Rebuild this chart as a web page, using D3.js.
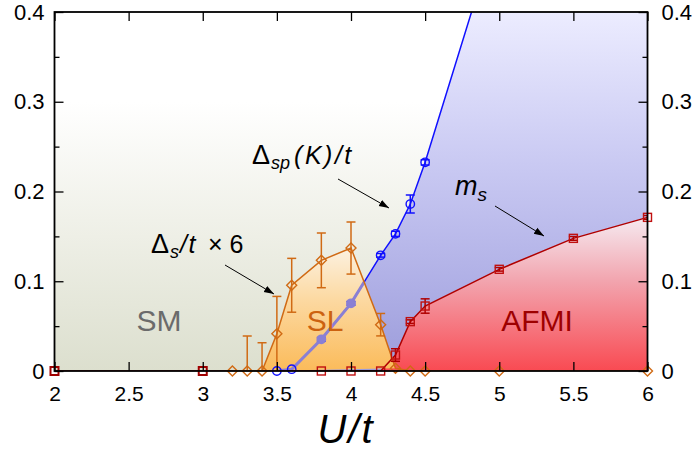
<!DOCTYPE html>
<html>
<head>
<meta charset="utf-8">
<script src="https://cdn.jsdelivr.net/npm/d3@7"></script>
<style>
  html, body { margin: 0; padding: 0; background: #fff; }
  svg { display: block; font-family: "Liberation Sans", Arial, sans-serif; }
</style>
</head>
<body>
<svg id="chart" width="698" height="451"></svg>
<script>
// Phase diagram: U/t on the x axis, gaps / order parameter on the y axis.
const xTicks = [2, 2.5, 3, 3.5, 4, 4.5, 5, 5.5, 6];
const xTickLabels = ["2", "2.5", "3", "3.5", "4", "4.5", "5", "5.5", "6"];
const yTicks = [0, 0.1, 0.2, 0.3, 0.4];
const yTickLabels = ["0", "0.1", "0.2", "0.3", "0.4"];
const yMinorTicks = [0.05, 0.15, 0.25, 0.35];

// Δs/t × 6 (superconducting gap, scaled)
const uDeltaS = [3.2, 3.3, 3.4, 3.5, 3.6, 3.8, 4.0, 4.2, 4.3, 4.4, 4.5, 5.0, 6.0];
const deltaS6 = [0, 0, 0, 0.0416, 0.0955, 0.1233, 0.137, 0.0516, 0.003, 0, 0, 0, 0];
const deltaS6Err = [0, 0.039, 0.0315, 0.0415, 0.030, 0.0305, 0.029, 0.0125, 0, 0, 0, 0, 0];

// Δsp(K)/t (single-particle gap)
const uDeltaSp = [3.5, 3.6, 3.8, 4.0, 4.2, 4.3, 4.4, 4.5, 5.0];
const deltaSp = [0, 0.002, 0.0353, 0.0754, 0.1289, 0.1528, 0.186, 0.2325, 0.50];
const deltaSpErr = [0, 0, 0.002, 0.002, 0.002, 0.003, 0.01, 0.003, 0];

// m_s (staggered magnetization)
const uMs = [2, 3, 3.8, 4.0, 4.2, 4.3, 4.4, 4.5, 5.0, 5.5, 6.0];
const ms = [0, 0, 0, 0, 0, 0.0178, 0.055, 0.0724, 0.1133, 0.1478, 0.1712];
const msErr = [0, 0, 0, 0, 0, 0.007, 0.002, 0.008, 0.002, 0.002, 0.002];

const W = 698, H = 451;
const x = d3.scaleLinear().domain([2, 6]).range([54.5, 647.5]);
const y = d3.scaleLinear().domain([0, 0.4]).range([371, 12]);
const [x0, x1] = x.range();
const [yb, yt] = y.range();

const svg = d3.select("#chart");
const defs = svg.append("defs");

function vGrad(id, stops) {
  const g = defs.append("linearGradient").attr("id", id)
    .attr("gradientUnits", "userSpaceOnUse")
    .attr("x1", 0).attr("x2", 0);
  const ys = stops.map(s => s[0]);
  g.attr("y1", y(ys[0])).attr("y2", y(ys[ys.length - 1]));
  const span = y(ys[ys.length - 1]) - y(ys[0]);
  stops.forEach(s => g.append("stop")
    .attr("offset", (y(s[0]) - y(ys[0])) / span)
    .attr("stop-color", s[1]));
}
vGrad("gBg", [[0.4, "#ffffff"], [0.3, "#ffffff"], [0.15, "#eeefe6"], [0, "#dcdfce"]]);
vGrad("gBlue", [[0.4, "#ececff"], [0.25, "#cdcdf4"], [0.1, "#b0b0e6"], [0, "#9c9cda"]]);
vGrad("gRed", [[0.175, "#f6eef4"], [0.1, "#f2a4ae"], [0, "#f94a52"]]);
vGrad("gOrange", [[0.14, "#fcf3e4"], [0.08, "#fcd9a2"], [0, "#fbbb5a"]]);

defs.append("clipPath").attr("id", "plotClip")
  .append("rect").attr("x", x0).attr("y", yt).attr("width", x1 - x0).attr("height", yb - yt);

const zip = (us, vs) => us.map((u, i) => [u, vs[i]]);
const line = d3.line().x(d => x(d[0])).y(d => y(d[1]));

// background (SM region)
svg.append("rect").attr("x", x0).attr("y", yt).attr("width", x1 - x0).attr("height", yb - yt)
  .attr("fill", "url(#gBg)");

const plot = svg.append("g").attr("clip-path", "url(#plotClip)");

// blue region: right of the single-particle gap curve
const spPts = zip(uDeltaSp, deltaSp);
const bluePoly = spPts.concat([[6, deltaSp[deltaSp.length - 1]], [6, 0]]);
plot.append("path").attr("d", line(bluePoly) + "Z").attr("fill", "url(#gBlue)");

// red region: under m_s
const msPts = zip(uMs, ms).filter(d => d[0] >= 4.2);
plot.append("path").attr("d", line(msPts.concat([[6, 0]])) + "Z").attr("fill", "url(#gRed)");

// orange region: under Δs
const dsPts = zip(uDeltaS, deltaS6);
const slPts = dsPts.filter(d => d[0] >= 3.4 && d[0] <= 4.3);
const slPath = line(slPts) + "Z";
plot.append("path").attr("d", slPath).attr("fill", "url(#gOrange)");
defs.append("clipPath").attr("id", "slClip").append("path").attr("d", slPath);

// curves
plot.append("path").attr("d", line(spPts)).attr("fill", "none")
  .attr("stroke", "#1010ff").attr("stroke-width", 1.5);
plot.append("path").attr("d", line(spPts)).attr("fill", "none")
  .attr("clip-path", "url(#slClip)")
  .attr("stroke", "#8a7fd4").attr("stroke-width", 3);
plot.append("path").attr("d", line(zip(uMs, ms))).attr("fill", "none")
  .attr("stroke", "#b00000").attr("stroke-width", 1.5);
plot.append("path").attr("d", line(dsPts)).attr("fill", "none")
  .attr("stroke", "#d06a14").attr("stroke-width", 1.5);

// error bars
function errBars(us, vs, es, color) {
  const g = plot.append("g").attr("stroke", color).attr("stroke-width", 1.5).attr("fill", "none");
  us.forEach((u, i) => {
    if (!es[i]) return;
    const cx = x(u), lo = y(vs[i] - es[i]), hi = y(vs[i] + es[i]);
    g.append("line").attr("x1", cx).attr("x2", cx).attr("y1", lo).attr("y2", hi);
    g.append("line").attr("x1", cx - 4.5).attr("x2", cx + 4.5).attr("y1", lo).attr("y2", lo);
    g.append("line").attr("x1", cx - 4.5).attr("x2", cx + 4.5).attr("y1", hi).attr("y2", hi);
  });
}
errBars(uDeltaS, deltaS6, deltaS6Err, "#d06a14");
errBars(uDeltaSp, deltaSp, deltaSpErr, "#1010ff");
errBars(uMs, ms, msErr, "#b00000");

// markers
const marks = svg.append("g");
zip(uMs, ms).forEach(d => {
  const heavy = d[0] <= 3;
  marks.append("rect").attr("x", x(d[0]) - 4).attr("y", y(d[1]) - 4)
    .attr("width", 8).attr("height", 8)
    .attr("fill", "none").attr("stroke", heavy ? "#a00000" : "#c01010")
    .attr("stroke-width", heavy ? 2 : 1.4);
});
spPts.filter(d => d[1] <= 0.4).forEach(d => {
  const inside = d[0] >= 3.7 && d[0] <= 4.1;
  marks.append("circle").attr("cx", x(d[0])).attr("cy", y(d[1])).attr("r", 4.2)
    .attr("fill", inside ? "#8a7fd4" : "none")
    .attr("stroke", inside ? "#8a7fd4" : "#1010ff").attr("stroke-width", 1.4);
});
dsPts.forEach(d => {
  const cx = x(d[0]), cy = y(d[1]), r = 5;
  marks.append("path")
    .attr("d", `M${cx},${cy - r}L${cx + r},${cy}L${cx},${cy + r}L${cx - r},${cy}Z`)
    .attr("fill", "none").attr("stroke", "#d06a14").attr("stroke-width", 1.4);
});

// axes (ticks point inward)
function styleAxis(g) {
  g.select(".domain").remove();
  g.selectAll(".tick line").attr("stroke", "#000").attr("stroke-width", 1.3);
  g.selectAll("text").attr("fill", "#000");
}
const fmtX = (d, i) => xTickLabels[i];
const fmtY = (d, i) => yTickLabels[i];

svg.append("g").attr("transform", `translate(0,${yb})`)
  .call(d3.axisBottom(x).tickValues(xTicks).tickFormat(fmtX).tickSize(-9).tickPadding(15))
  .call(styleAxis).call(g => g.selectAll("text").attr("font-size", 21).attr("font-family", "Liberation Sans, Arial"));
svg.append("g").attr("transform", `translate(0,${yt})`)
  .call(d3.axisTop(x).tickValues(xTicks).tickFormat("").tickSize(-9))
  .call(styleAxis);
svg.append("g").attr("transform", `translate(${x0},0)`)
  .call(d3.axisLeft(y).tickValues(yTicks).tickFormat(fmtY).tickSize(-9).tickPadding(10))
  .call(styleAxis).call(g => g.selectAll("text").attr("font-size", 22).attr("font-family", "Liberation Sans, Arial"));
svg.append("g").attr("transform", `translate(${x0},0)`)
  .call(d3.axisLeft(y).tickValues(yMinorTicks).tickFormat("").tickSize(-5))
  .call(styleAxis);
svg.append("g").attr("transform", `translate(${x1},0)`)
  .call(d3.axisRight(y).tickValues(yTicks).tickFormat(fmtY).tickSize(-9).tickPadding(14))
  .call(styleAxis).call(g => g.selectAll("text").attr("font-size", 22).attr("font-family", "Liberation Sans, Arial"));
svg.append("g").attr("transform", `translate(${x1},0)`)
  .call(d3.axisRight(y).tickValues(yMinorTicks).tickFormat("").tickSize(-5))
  .call(styleAxis);

svg.append("rect").attr("x", x0).attr("y", yt).attr("width", x1 - x0).attr("height", yb - yt)
  .attr("fill", "none").attr("stroke", "#000").attr("stroke-width", 1.8);

// axis title
svg.append("text").attr("x", 346).attr("y", 443)
  .attr("text-anchor", "middle").attr("font-size", 40).attr("font-style", "italic")
  .attr("letter-spacing", 2)
  .text("U/t");

// region labels
const regionLabel = (txt, xc, color) => svg.append("text")
  .attr("x", xc).attr("y", 331).attr("text-anchor", "middle")
  .attr("font-size", 30).attr("fill", color).text(txt);
regionLabel("SM", 159, "#6b6b6b");
regionLabel("SL", 325, "#cc6210");
regionLabel("AFMI", 537, "#9e0000");

// curve annotations
const t1 = svg.append("text").attr("x", 252).attr("y", 164).attr("font-size", 25);
t1.append("tspan").attr("font-size", 27).text("Δ");
t1.append("tspan").attr("font-style", "italic").attr("font-size", 18).attr("dy", 5).attr("dx", 1).text("sp");
t1.append("tspan").attr("font-style", "italic").attr("dy", -5).attr("dx", 4)
  .attr("letter-spacing", 2.5).text("(K)/t");

const t2 = svg.append("text").attr("x", 151).attr("y", 253).attr("font-size", 25);
t2.append("tspan").attr("font-size", 27).text("Δ");
t2.append("tspan").attr("font-style", "italic").attr("font-size", 18).attr("dy", 5).attr("dx", 1).text("s");
t2.append("tspan").attr("font-style", "italic").attr("dy", -5).attr("dx", 1).attr("letter-spacing", 1.5).text("/t");
t2.append("tspan").attr("dx", 11).text("×");
t2.append("tspan").attr("dx", 7).text("6");

const t3 = svg.append("text").attr("x", 455).attr("y", 195).attr("font-size", 27);
t3.append("tspan").attr("font-style", "italic").text("m");
t3.append("tspan").attr("font-style", "italic").attr("font-size", 19).attr("dy", 6).text("s");

// arrows
defs.append("marker").attr("id", "ah").attr("viewBox", "0 0 10 10")
  .attr("refX", 10).attr("refY", 5).attr("markerWidth", 10).attr("markerHeight", 10)
  .attr("markerUnits", "userSpaceOnUse").attr("orient", "auto")
  .append("path").attr("d", "M0,1.5L10,5L0,8.5Z").attr("fill", "#000");
const arrow = (xa, ya, xb, yb2) => svg.append("line")
  .attr("x1", xa).attr("y1", ya).attr("x2", xb).attr("y2", yb2)
  .attr("stroke", "#000").attr("stroke-width", 1).attr("marker-end", "url(#ah)");
arrow(338, 179, 389, 208);
arrow(225, 265, 274, 294);
arrow(495, 206, 544, 236);
</script>
</body>
</html>
